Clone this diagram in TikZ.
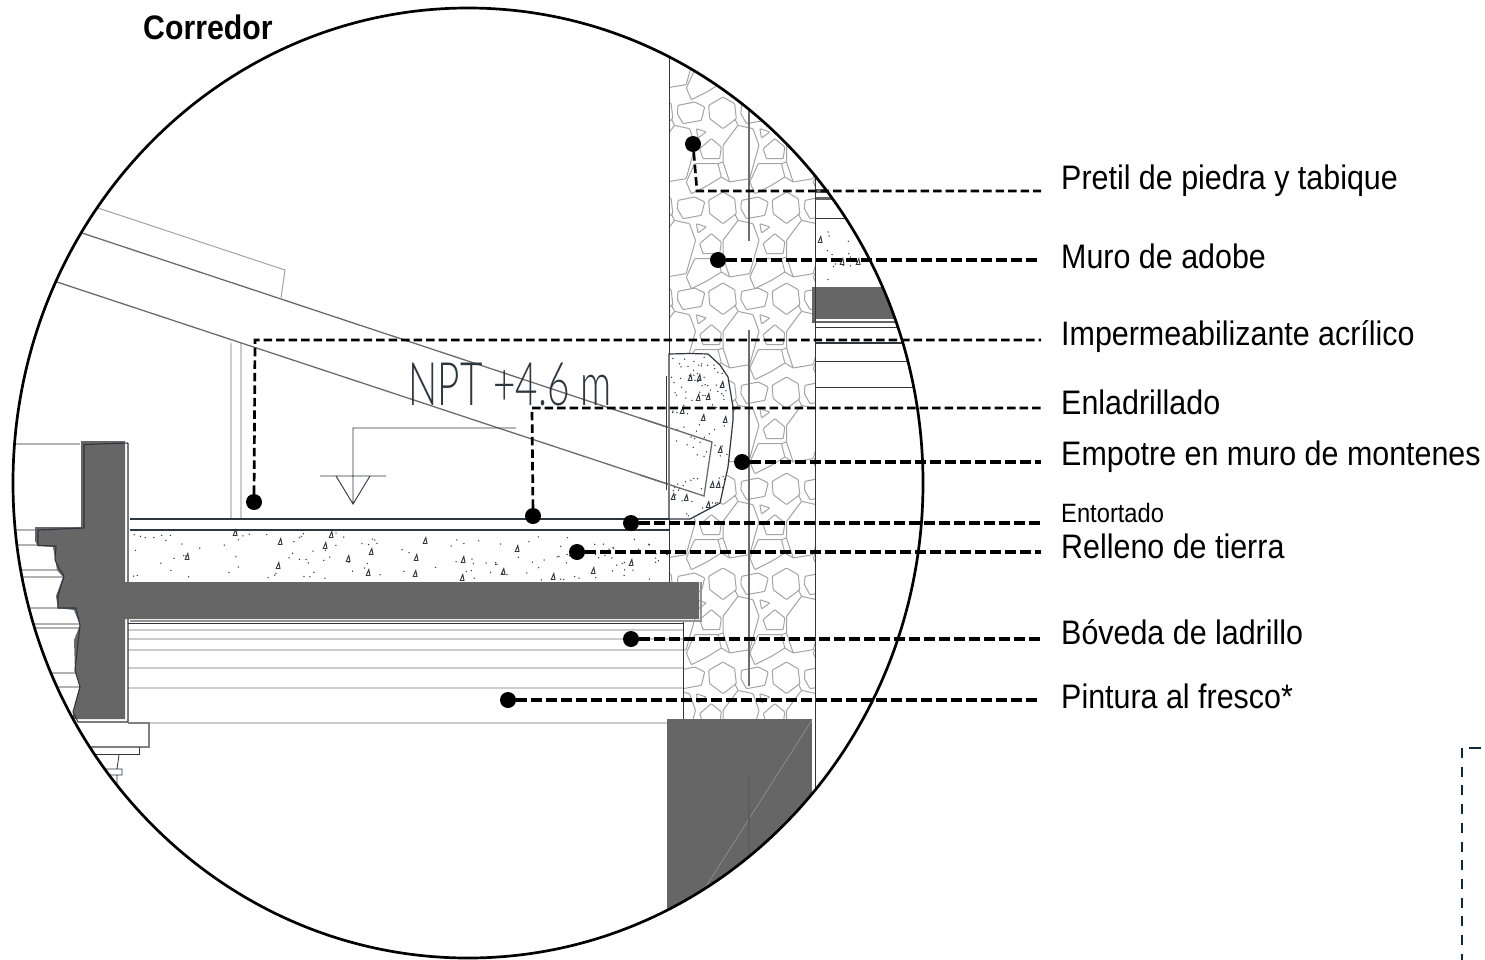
\documentclass[tikz,border=0pt]{standalone}
\usepackage{fontspec}
\setmainfont{Liberation Sans}
\newfontfamily\narrowfont[FakeStretch=0.895]{Liberation Sans}
\newfontfamily\corrfont[FakeStretch=0.89]{Liberation Sans}
\newfontfamily\npfont[FakeStretch=0.645]{Lato Light}
\definecolor{slab}{HTML}{666666}
\definecolor{ink}{HTML}{2E3640}
\definecolor{stonec}{HTML}{A4A4A4}
\definecolor{vault}{HTML}{CCCCCC}
\definecolor{navy}{HTML}{0A2A3A}
\tikzset{
  leader/.style={draw=black,line width=3.3pt,dash pattern=on 11pt off 4pt},
  thinleader/.style={draw=black,line width=2.7pt,dash pattern=on 8.5pt off 4pt},
  dotnode/.style={circle,fill=black,inner sep=0pt,minimum size=16pt},
  lab/.style={anchor=west,inner sep=0pt,font=\narrowfont\fontsize{34}{36}\selectfont},
  stone/.style={draw=stonec,line width=1pt,line join=round,rounded corners=0.8pt},
  inkline/.style={draw=ink,line width=1.3pt},
  vaultline/.style={draw=vault,line width=1.2pt},
  frame/.style={draw=black,line width=2.7pt},
  slabfill/.style={fill=slab,draw=none}
}
\newcommand{\stonetile}[2]{%
  \begin{scope}[shift={(#1,#2)},x=0.3333pt,y=-0.3333pt]
    \draw[stone] (-40,-20)--(3,-45)--(38,-25)--(43,20)--(3,50)--(-37,20)--cycle;
    \draw[stone] (-132,-20)--(-82,-30)--(-52,-15)--(-62,25)--(-117,35)--(-134,5)--cycle;
    \draw[stone] (-77,50)--(-47,60)--(-72,78)--cycle;
    \draw[stone] (-67,110)--(-32,80)--(-2,105)--(-7,140)--(-57,140)--cycle;
    \draw[stone] (3,100)--(48,40)--(93,50)--(111,100)--(83,200)--(23,210)--(3,150)--cycle;
    \draw[stone] (-107,210)--(-82,155)--(-12,155)--(-2,195)--(-42,220)--(-92,245)--cycle;
    \draw[stone] (-2,195)--(23,210) (-12,155)--(3,150) (48,40)--(38,20);
  \end{scope}}
\newcommand{\tri}[2]{\draw[draw=ink,line width=0.9pt] (#1-1.8,#2+2.5)--(#1+2,#2+2.5)--(#1+0.8,#2-3.5)--cycle;}
\newcommand{\stipple}[5]{% x0 x1 y0 y1 n
  \foreach \k in {1,...,#5}{%
    \pgfmathsetmacro{\xa}{#1+rnd*(#2-#1)}%
    \pgfmathsetmacro{\ya}{#3+rnd*(#4-#3)}%
    \fill[ink] (\xa,\ya) circle (0.75);}}
\begin{document}
\begin{tikzpicture}[x=1pt,y=-1pt]
\useasboundingbox (0,0) rectangle (1485,959);
\fill[white] (0,0) rectangle (1485,959);
\begin{scope}
  \clip (468,483) ellipse [x radius=455,y radius=475];
  % stone wall
  \begin{scope}
    \clip (669,0) rectangle (815,582) (684,582) rectangle (815,722);
    \foreach \r in {18,112,207,298,392,488,583,677,771}{
      \foreach \c in {658.5,722,785.5,849}{\stonetile{\c}{\r}}}
  \end{scope}
  % vault lines
  \foreach \yy in {630,639,650,668,688,723}{\draw[vaultline] (128,\yy)--(684,\yy);}
  \draw[draw=ink,line width=1pt] (128,623)--(684,623);
  % left section grey lines
  \foreach \yy in {444,530,545,570,577,608,624,628,673,687}{\draw[vaultline,draw=gray!60] (0,\yy)--(80,\yy);}
  % thin pair
  \draw[vaultline] (231,343)--(231,519) (241,343)--(241,519);
  % roof
  \draw[draw=gray!85!black,line width=1.3pt] (82,233)--(712,442)--(704,496)--(60,283)--(0,263);
  \draw[draw=stonec,line width=1pt] (98,208)--(285,270)--(281,298);
  % fill
  \draw[draw=ink,line width=1.3pt] (130,519)--(669,519) (130,530)--(669,530);
  \pgfmathsetseed{4711}
  \stipple{132}{668}{533}{580}{130}
  \foreach \p/\q in {280/542,235/533,187/557,278/566,325/546,348/559,371/552,368/573,415/574,416/558,331/535,463/560,503/572,517/549,553/577,593/571,631/563,462/578,425/541}{\tri{\p}{\q}}
  % right section
  \draw[draw=ink,line width=1pt] (816,218)--(850,218);
  \fill[slab] (816,189) rectangle (835,193);
  \fill[slab] (816,197) rectangle (835,200);
  \stipple{818}{860}{222}{285}{14}
  \tri{820}{240}\tri{842}{262}\tri{858}{262}
  \fill[slab] (812,287) rectangle (900,323);
  \draw[draw=white,line width=1.5pt] (816,320)--(900,320);
  \draw[draw=ink,line width=1pt] (816,327)--(905,327);
  \draw[draw=ink,line width=1.4pt] (816,343)--(905,343);
  \draw[draw=ink,line width=1pt] (816,361)--(908,361) (816,387)--(915,387);
  % empotre blob
  \draw[fill=white,draw=ink,line width=1.2pt] (669,354)--(690,353.5)--(708,354)--(720,365)--(728,377)--(733,407)--(733,420)--(728,467)--(720,503)--(707,510)--(690,519)--(669,519)--cycle;
  \begin{scope}
    \clip (669,354)--(690,353.5)--(708,354)--(720,365)--(728,377)--(733,407)--(733,420)--(728,467)--(720,503)--(707,510)--(690,519)--(669,519)--cycle;
    \stipple{671}{730}{356}{400}{55}
    \stipple{671}{730}{400}{516}{60}
    \foreach \p/\q in {690/378,699/378,698/398,708/397,722/385,724/366,703/418,725/420,682/411,720/450,712/485,673/497,686/498,708/505,718/485}{\tri{\p}{\q}}
  \end{scope}
  \draw[draw=gray!85!black,line width=1.3pt] (640,418)--(712,442)--(704,496)--(640,475);
  \draw[draw=ink,line width=1.3pt] (666.5,376)--(666.5,490);
  \draw[draw=gray,line width=1.6pt] (669,380)--(669,490);
  % wall lines
  \draw[inkline] (669.5,40)--(669.5,354) (669.5,519)--(669.5,582);
  \draw[inkline] (683.5,620)--(683.5,722);
  \draw[inkline] (815.5,150)--(815.5,800);
  \draw[draw=gray!85!black,line width=1.5pt] (749,100)--(749,241) (749,330)--(749,686);
  % dark slabs
  \path[slabfill] (81,441)--(125,441)--(125,582)--(699,582)--(699,619)--(125,619)--(125,719)--(72,719)--(76,700)--(80,685)--(75,672)--(74,640)--(80,625)--(74,610)--(58,608)--(56,596)--(63,577)--(57,570)--(53,547)--(38,546)--(35,541)--(35,527)--(81,527)--cycle;
  \draw[draw=ink,line width=1.1pt] (128,443)--(84,444.5)--(84,528)--(38,530)--(38,545.5)--(56,546)--(55,560)--(60,570)--(64,576)--(58,596)--(58,608)--(76,608)--(80,625)--(75,670)--(80,687)--(73,712)--(78,722)--(128,722)--(128,443);
  \fill[white] (125.5,445) rectangle (127.4,581);
  \fill[white] (125.5,620) rectangle (127.4,721);
  \fill[slab] (122,582) rectangle (130,619);
  \draw[draw=gray!85!white,line width=1.1pt] (130,621)--(701,621)--(701,582);
  % bottom pier
  \fill[slab] (667,719) rectangle (812,960);
  \draw[draw=gray!80!white,line width=0.5pt] (812,720)--(705,888);
  \draw[draw=ink!80!white,line width=1.3pt] (749,775)--(749,860);
  % cornice below
  \draw[draw=gray,line width=1.1pt] (128,723)--(149,723)--(149,747)--(85,747);
  \draw[draw=ink,line width=0.9pt] (88,754)--(139,754)--(139,747);
  \draw[draw=ink,line width=0.8pt] (119,755)--(117,769) (103,769)--(122,769)--(122,775)--(100,775) (117,775)--(117,787) (118,790)--(126,797);
\end{scope}
% level mark
\draw[draw=ink,line width=0.9pt] (516,428)--(353,428)--(353,504) (320,476)--(386,476) (336,476)--(353,504)--(370,476);
\node[anchor=center,inner sep=0pt,text=ink] (npt) at (510,384) {\npfont\fontsize{60}{62}\selectfont NPT +4.6 m};
% outer frame
\draw[frame] (468,483) ellipse [x radius=455,y radius=475];
% title and labels
\node[anchor=west,inner sep=0pt] (corr) at (143,27) {\corrfont\bfseries\fontsize{34}{36}\selectfont Corredor};
\node[lab] (lpretil) at (1061,181) {Pretil de piedra y tabique};
\node[lab] (lmuro) at (1061,256) {Muro de adobe};
\node[lab] (limper) at (1061,337) {Impermeabilizante acrílico};
\node[lab] (lenlad) at (1061,402) {Enladrillado};
\node[lab] (lempo) at (1061,457) {Empotre en muro de montenes};
\node[lab,font=\narrowfont\fontsize{26.5}{28}\selectfont] (lent) at (1061,513) {Entortado};
\node[lab] (lrell) at (1061,546) {Relleno de tierra};
\node[lab] (lbov) at (1061,632) {Bóveda de ladrillo};
\node[lab] (lpin) at (1061,696) {Pintura al fresco*};
% leader dots
\node[dotnode] (d1) at (693,144) {};
\node[dotnode] (d2) at (718,260) {};
\node[dotnode] (d3) at (254,502) {};
\node[dotnode] (d4) at (533,516) {};
\node[dotnode] (d5) at (742,462) {};
\node[dotnode] (d6) at (631,523) {};
\node[dotnode] (d7) at (577,552) {};
\node[dotnode] (d8) at (631,639) {};
\node[dotnode] (d9) at (508,700) {};
\coordinate (e1) at (1041,191);
\coordinate (e2) at (1041,260);
\coordinate (e3) at (1041,340);
\coordinate (e4) at (1041,408);
\coordinate (e5) at (1041,462);
\coordinate (e6) at (1041,523);
\coordinate (e7) at (1041,552);
\coordinate (e8) at (1041,639);
\coordinate (e9) at (1041,700);
\coordinate (k1) at (697,191);
\coordinate (k3) at (255,340);
\coordinate (k4) at (532,408);
\draw[thinleader] (d1)--(k1)--(e1);
\draw[leader] (d2)--(e2);
\draw[thinleader] (d3)--(k3)--(e3);
\draw[thinleader] (d4)--(k4)--(e4);
\draw[leader] (d5)--(e5);
\draw[leader] (d6)--(e6);
\draw[leader] (d7)--(e7);
\draw[leader] (d8)--(e8);
\draw[leader] (d9)--(e9);
% stray dashed line at lower right
\coordinate (s0) at (1462,748);
\coordinate (s1) at (1462,960);
\coordinate (s2) at (1469,748);
\coordinate (s3) at (1481,748);
\draw[draw=navy,line width=2.7pt,dash pattern=on 10pt off 8.7pt] (s0)--(s1);
\draw[draw=navy,line width=2.7pt] (s2)--(s3);
\end{tikzpicture}
\end{document}
